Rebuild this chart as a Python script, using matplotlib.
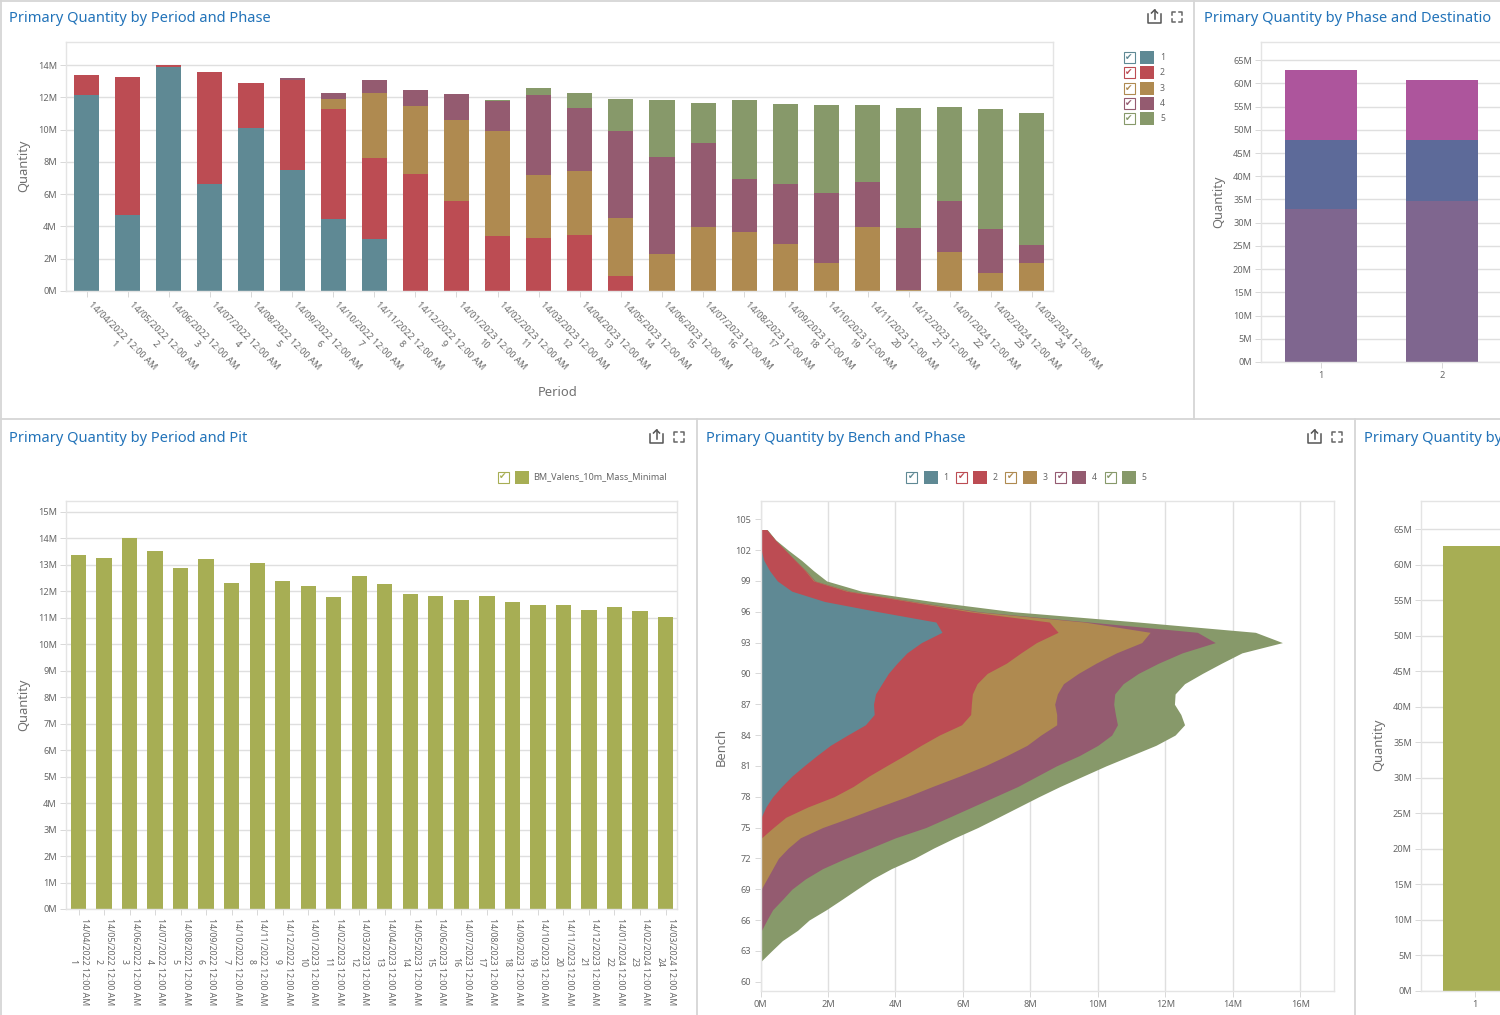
import matplotlib
matplotlib.use("Agg")
import matplotlib.pyplot as plt
from matplotlib.lines import Line2D
from matplotlib.patches import Rectangle
from matplotlib.transforms import ScaledTranslation
import numpy as np

plt.rcParams["font.family"] = ["Noto Sans", "DejaVu Sans"]

WIDTH, HEIGHT = 1500, 1015

PHASE_COLORS = ["#5f8994", "#bc4c53", "#af8a50", "#945b70", "#87996a"]
DEST_COLORS = ["#7f668f", "#5d6a99", "#ad559c"]
OLIVE = "#a7ae54"
TITLE_COLOR = "#2273b9"
TEXT_COLOR = "#666666"
LABEL_COLOR = "#707070"
GRID_COLOR = "#dfdfdf"
PANEL_COLOR = "#d6d6d6"

periods = list(range(1, 25))
period_dates = [
    "14/04/2022", "14/05/2022", "14/06/2022", "14/07/2022", "14/08/2022", "14/09/2022",
    "14/10/2022", "14/11/2022", "14/12/2022", "14/01/2023", "14/02/2023", "14/03/2023",
    "14/04/2023", "14/05/2023", "14/06/2023", "14/07/2023", "14/08/2023", "14/09/2023",
    "14/10/2023", "14/11/2023", "14/12/2023", "14/01/2024", "14/02/2024", "14/03/2024",
]

# quantity per period, millions
period_phase1 = [12.14, 4.69, 13.85, 6.66, 10.07, 7.49, 4.45, 3.20, 0, 0, 0, 0, 0, 0, 0, 0, 0, 0, 0, 0, 0, 0, 0, 0]
period_phase2 = [1.22, 8.56, 0.17, 6.88, 2.81, 5.58, 6.80, 5.07, 7.28, 5.58, 3.39, 3.29, 3.49, 0.91, 0, 0, 0, 0, 0, 0, 0, 0, 0, 0]
period_phase3 = [0, 0, 0, 0, 0, 0, 0.64, 4.01, 4.18, 5.01, 6.54, 3.91, 3.93, 3.60, 2.27, 3.97, 3.64, 2.92, 1.76, 3.95, 0.04, 2.40, 1.12, 1.76]
period_phase4 = [0, 0, 0, 0, 0, 0.14, 0.41, 0.79, 0.97, 1.61, 1.84, 4.94, 3.91, 5.42, 6.04, 5.21, 3.31, 3.70, 4.30, 2.83, 3.85, 3.18, 2.71, 1.09]
period_phase5 = [0, 0, 0, 0, 0, 0, 0, 0, 0, 0, 0.06, 0.43, 0.91, 1.96, 3.52, 2.50, 4.88, 4.96, 5.44, 4.72, 7.42, 5.83, 7.42, 8.19]

period_pit = [13.36, 13.25, 14.02, 13.54, 12.88, 13.21, 12.30, 13.07, 12.40, 12.20, 11.80, 12.57,
              12.26, 11.89, 11.82, 11.68, 11.83, 11.58, 11.50, 11.50, 11.30, 11.40, 11.25, 11.04]

phases_shown = [1, 2]
dest_bottom = [32.9, 34.7]
dest_middle = [14.9, 13.2]
dest_top = [15.0, 12.9]

pit_phase = [1]
pit_phase_total = [62.7]

benches = list(range(62, 105))
# outer edge of each stacked band per bench, millions
edge_phase1 = [0] * 14 + [0.02, 0.16, 0.36, 0.63, 0.93, 1.29, 1.67, 2.07, 2.58, 3.11, 3.37, 3.35, 3.41, 3.60,
                          3.79, 4.05, 4.34, 4.77, 5.38, 5.20, 3.50, 1.90, 0.93, 0.50, 0.27, 0.10, 0.02, 0, 0]
edge_phase2 = [0] * 12 + [0.03, 0.38, 0.75, 1.40, 2.18, 2.75, 3.21, 3.73, 4.26, 4.76, 5.30, 5.96, 6.23, 6.25, 6.28,
                          6.42, 6.72, 7.29, 7.72, 8.18, 8.82, 8.56, 6.20, 4.40, 2.55, 1.57, 1.32, 1.02, 0.73, 0.43, 0.18]
edge_phase3 = [0] * 7 + [0.02, 0.19, 0.36, 0.53, 0.82, 1.18, 1.84, 2.69, 3.50, 4.34, 5.10, 5.90, 6.65, 7.30, 7.90,
                         8.31, 8.78, 8.78, 8.72, 8.80, 8.98, 9.42, 9.95, 10.55, 11.30, 11.55, 9.60, 6.40, 4.50, 2.62,
                         1.60, 1.34, 1.03, 0.73, 0.43, 0.18]
edge_phase4 = [0] * 3 + [0.03, 0.19, 0.36, 0.65, 0.93, 1.33, 1.84, 2.52, 3.26, 4.00, 4.90, 5.59, 6.27, 6.95, 7.63,
                         8.20, 8.77, 9.45, 10.00, 10.41, 10.58, 10.52, 10.47, 10.50, 10.75, 11.20, 11.80, 12.50, 13.48,
                         12.95, 9.75, 6.50, 4.55, 2.65, 1.62, 1.35, 1.04, 0.73, 0.43, 0.18]
edge_phase5 = [0.02, 0.33, 0.65, 1.10, 1.44, 1.95, 2.41, 2.86, 3.32, 3.88, 4.56, 5.13, 5.76, 6.44, 7.05, 7.65, 8.25,
               8.88, 9.56, 10.24, 10.98, 11.72, 12.29, 12.57, 12.46, 12.27, 12.29, 12.57, 13.10, 13.67, 14.27, 15.47,
               14.67, 11.20, 7.50, 5.10, 3.00, 1.96, 1.57, 1.22, 0.82, 0.45, 0.20]

phase_names = ["1", "2", "3", "4", "5"]

fig = plt.figure(figsize=(WIDTH / 100, HEIGHT / 100), dpi=100, facecolor="white")


def px_axes(left, top, right, bottom):
    return fig.add_axes([left / WIDTH, 1 - bottom / HEIGHT, (right - left) / WIDTH, (bottom - top) / HEIGHT])


def style_axes(ax, grid_axis="y"):
    ax.set_axisbelow(True)
    ax.grid(axis=grid_axis, color=GRID_COLOR, lw=1.0)
    for spine in ax.spines.values():
        spine.set_color("#e4e4e4")
        spine.set_linewidth(1.0)
    ax.tick_params(axis="both", length=4, width=0.7, color="#d8d8d8", labelsize=6.6,
                   labelcolor=TEXT_COLOR, pad=2.5)


def m_labels(values):
    return [f"{v}M" for v in values]


def axis_title(x, y, text, rotation=90):
    overlay.text(x, y, text, fontsize=9.3, color=LABEL_COLOR, rotation=rotation, ha="center", va="center")


def legend_item(x_check, x_swatch, x_text, y, color, text, fontsize=6.2):
    overlay.add_patch(Rectangle((x_check - 5.5, y - 5.5), 11, 11, fc="white", ec=color, lw=0.8))
    overlay.text(x_check, y, "\u2714", fontsize=6.5, color=color, ha="center", va="center", family="DejaVu Sans")
    overlay.add_patch(Rectangle((x_swatch - 7, y - 6.5), 14, 13, fc=color, ec="none"))
    overlay.text(x_text, y, text, fontsize=fontsize, color=TEXT_COLOR, ha="left", va="center")


def panel_icons(x, y):
    # share icon
    overlay.add_line(Line2D([x - 7, x - 7, x + 6, x + 6], [y - 3, y + 6, y + 6, y - 3], color="#555555", lw=1.1))
    overlay.add_line(Line2D([x - 0.5, x - 0.5], [y + 2, y - 7], color="#555555", lw=1.1))
    overlay.add_line(Line2D([x - 3.5, x - 0.5, x + 2.5], [y - 4, y - 7, y - 4], color="#555555", lw=1.1))
    # expand icon
    for sx in (-1, 1):
        for sy in (-1, 1):
            cx, cy = x + 22 + sx * 5, y + sy * 5
            overlay.add_line(Line2D([cx - sx * 3, cx, cx], [cy, cy, cy - sy * 3], color="#666666", lw=1.1))


# overlay for panel frames, titles, legends
overlay = fig.add_axes([0, 0, 1, 1], zorder=5)
overlay.set_xlim(0, WIDTH)
overlay.set_ylim(HEIGHT, 0)
overlay.axis("off")
overlay.patch.set_alpha(0)

for xs, ys in [
    ([1194, 1194], [0, 419]),
    ([0, WIDTH], [419, 419]),
    ([697, 697], [419, HEIGHT]),
    ([1355, 1355], [419, HEIGHT]),
    ([0, WIDTH], [0.5, 0.5]),
    ([0.5, 0.5], [0, HEIGHT]),
]:
    overlay.add_line(Line2D(xs, ys, color=PANEL_COLOR, lw=1.3))

for x, y, title in [
    (9, 18.5, "Primary Quantity by Period and Phase"),
    (1204, 18.5, "Primary Quantity by Phase and Destinatio"),
    (9, 438.5, "Primary Quantity by Period and Pit"),
    (706, 438.5, "Primary Quantity by Bench and Phase"),
    (1364, 438.5, "Primary Quantity by"),
]:
    overlay.text(x, y, title, fontsize=10.55, color=TITLE_COLOR, ha="left", va="center")

for x, y in [(1155, 17), (657, 437), (1315, 437)]:
    panel_icons(x, y)

# period / phase stacked bars
ax1 = px_axes(66, 42, 1052.5, 291)
style_axes(ax1)
bottom = np.zeros(len(periods))
for values, color in zip([period_phase1, period_phase2, period_phase3, period_phase4, period_phase5], PHASE_COLORS):
    ax1.bar(periods, values, width=0.61, bottom=bottom, color=color)
    bottom += np.array(values)
ax1.set_xlim(0.5, 24.5)
ax1.set_ylim(0, 15.43)
ax1.set_yticks(range(0, 15, 2))
ax1.set_yticklabels(m_labels(range(0, 15, 2)))
ax1.set_xticks(periods)
ax1.set_xticklabels([f"{d} 12:00 AM\n{p}" for d, p in zip(period_dates, periods)],
                    rotation=-45, ha="left", va="top", rotation_mode="anchor", linespacing=1.35,
                    multialignment="center")
for label in ax1.get_xticklabels():
    label.set_transform(label.get_transform() + ScaledTranslation(6 / 100, 0, fig.dpi_scale_trans))
axis_title(24, 166, "Quantity")
axis_title(558, 393, "Period", rotation=0)
for y, color, name in zip([57, 72.5, 88, 103, 118.7], PHASE_COLORS, phase_names):
    legend_item(1129, 1147, 1160, y, color, name)

# phase / destination, runs off the right edge
ax2 = px_axes(1261, 42, 1500, 362)
style_axes(ax2)
ax2.spines["right"].set_visible(False)
ax2.bar(phases_shown, dest_bottom, width=0.595, color=DEST_COLORS[0])
ax2.bar(phases_shown, dest_middle, width=0.595, bottom=dest_bottom, color=DEST_COLORS[1])
ax2.bar(phases_shown, dest_top, width=0.595, bottom=np.add(dest_bottom, dest_middle), color=DEST_COLORS[2])
ax2.set_xlim(0.504, 2.479)
ax2.set_ylim(0, 68.9)
ax2.set_yticks(range(0, 66, 5))
ax2.set_yticklabels(m_labels(range(0, 66, 5)))
ax2.set_xticks(phases_shown)
ax2.set_xticklabels([str(p) for p in phases_shown])
axis_title(1219, 202, "Quantity")

# period / pit bars
ax3 = px_axes(66, 501, 677, 909)
style_axes(ax3)
ax3.bar(periods, period_pit, width=0.6, color=OLIVE)
ax3.set_xlim(0.51, 24.45)
ax3.set_ylim(0, 15.41)
ax3.set_yticks(range(0, 16))
ax3.set_yticklabels(m_labels(range(0, 16)))
ax3.set_xticks(periods)
ax3.set_xticklabels([f"{d} 12:00 AM\n{p}" for d, p in zip(period_dates, periods)],
                    rotation=-90, ha="center", va="top", linespacing=1.35, multialignment="center", fontsize=6.3)
axis_title(24, 705, "Quantity")
legend_item(503, 521.5, 533.5, 477, OLIVE, "BM_Valens_10m_Mass_Minimal", fontsize=6.55)

# bench / phase stacked area
ax4 = px_axes(760.5, 501, 1334, 990.7)
style_axes(ax4, grid_axis="x")
edges = [edge_phase5, edge_phase4, edge_phase3, edge_phase2, edge_phase1]
for edge, color in zip(edges, PHASE_COLORS[::-1]):
    ax4.fill_betweenx(benches, 0, edge, color=color, lw=0)
ax4.set_xlim(0, 17.0)
ax4.set_ylim(59.12, 106.78)
ax4.set_xticks(range(0, 17, 2))
ax4.set_xticklabels(m_labels(range(0, 17, 2)))
ax4.set_yticks(range(60, 106, 3))
axis_title(721, 747, "Bench")
for i, (color, name) in enumerate(zip(PHASE_COLORS, phase_names)):
    step = i * 49.6
    legend_item(911.7 + step, 930.5 + step, 943 + step, 477, color, name)

# last panel, mostly off the right edge
ax5 = px_axes(1421, 501, 1500, 991)
style_axes(ax5)
ax5.spines["right"].set_visible(False)
ax5.bar(pit_phase, pit_phase_total, width=0.6, color=OLIVE)
ax5.set_xlim(0.5, 1.234)
ax5.set_ylim(0, 69.0)
ax5.set_yticks(range(0, 66, 5))
ax5.set_yticklabels(m_labels(range(0, 66, 5)))
ax5.set_xticks(pit_phase)
ax5.set_xticklabels([str(p) for p in pit_phase])
axis_title(1379, 745, "Quantity")

fig.savefig("out.png", dpi=100, facecolor="white")
